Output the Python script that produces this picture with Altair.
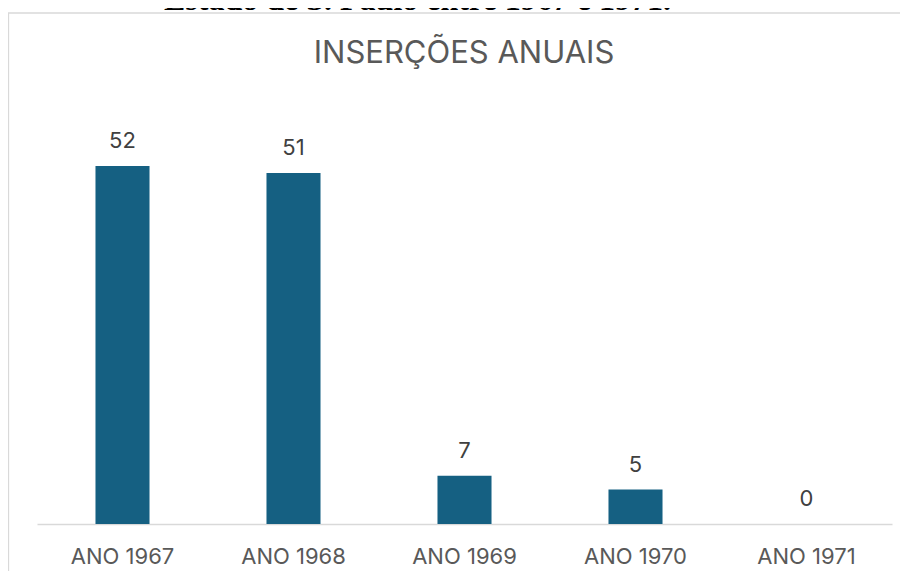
import altair as alt
import pandas as pd

# ---- data ----
categories = ["ANO 1967", "ANO 1968", "ANO 1969", "ANO 1970", "ANO 1971"]
values = [52, 51, 7, 5, 0]
chart_title = "INSERÇÕES ANUAIS"
caption_text = "Estado de S. Paulo entre 1967 e 1971."

df = pd.DataFrame({"categoria": categories, "insercoes": values})
one = pd.DataFrame({"k": [0]})

BAR = "#156082"
GRID = "#D9D9D9"
FONT = "Inter"

x_enc = alt.X(
    "categoria:N",
    sort=categories,
    scale=alt.Scale(paddingInner=0.684, paddingOuter=0.342),
    axis=alt.Axis(
        title=None,
        labelAngle=0,
        ticks=False,
        tickSize=0,
        domainColor=GRID,
        domainWidth=1.5,
        labelColor="#595959",
        labelFont=FONT,
        labelFontSize=22,
        labelBaseline="alphabetic",
        labelPadding=39,
    ),
)
y_enc = alt.Y("insercoes:Q", scale=alt.Scale(domain=[0, 60], nice=False), axis=None)

base = alt.Chart(df).encode(x=x_enc, y=y_enc)

bars = base.mark_bar(color=BAR)

labels = base.mark_text(
    dy=-18, baseline="alphabetic", font=FONT, fontSize=22, color="#404040"
).encode(text="insercoes:Q")

frame_top = alt.Chart(one).mark_rule(color=GRID, strokeWidth=1.3).encode(
    x=alt.value(-29), x2=alt.value(863), y=alt.value(-98)
)
frame_left = alt.Chart(one).mark_rule(color=GRID, strokeWidth=1.3).encode(
    x=alt.value(-28.5), y=alt.value(-98), y2=alt.value(460)
)
caption = alt.Chart(one).mark_text(
    font="Liberation Serif", fontSize=32, fontWeight="bold", color="#000000",
    align="center", baseline="alphabetic",
).encode(x=alt.value(380.5), y=alt.value(-101), text=alt.value(caption_text))

title_mark = alt.Chart(one).mark_text(
    font=FONT, fontSize=31, fontWeight="normal", color="#595959",
    align="center", baseline="alphabetic",
).encode(x=alt.value(427), y=alt.value(-48), text=alt.value(chart_title))

chart = (
    alt.layer(frame_top, frame_left, caption, title_mark, bars, labels)
    .properties(
        width=855,
        height=413,
        autosize=alt.AutoSizeParams(type="none"),
        padding={"left": 29, "top": 103, "right": 8, "bottom": 47},
    )
    .configure_view(stroke=None)
)

chart.save("out.html", embed_options={"renderer": "svg", "actions": False})
